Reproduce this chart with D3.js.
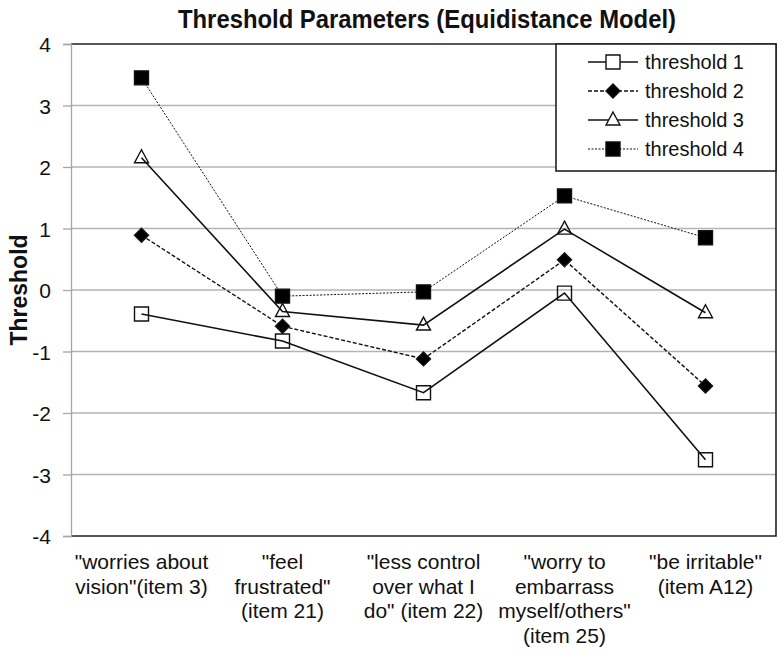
<!DOCTYPE html>
<html>
<head>
<meta charset="utf-8">
<script src="https://cdn.jsdelivr.net/npm/d3@7"></script>
<style>
  body { margin: 0; background: #fff; }
  text { font-family: "Liberation Sans", Arial, sans-serif; fill: #111; }
</style>
</head>
<body>
<svg id="chart" width="784" height="656"></svg>
<script>
// categories (multi-line labels)
const categories = [
  ['"worries about', 'vision"(item 3)'],
  ['"feel', 'frustrated"', '(item 21)'],
  ['"less control', 'over what I', 'do" (item 22)'],
  ['"worry to', 'embarrass', 'myself/others"', '(item 25)'],
  ['"be irritable"', '(item A12)']
]
const seriesNames = ['threshold 1', 'threshold 2', 'threshold 3', 'threshold 4']
const threshold1 = [-0.39, -0.83, -1.67, -0.05, -2.76]
const threshold2 = [0.89, -0.59, -1.12, 0.49, -1.56]
const threshold3 = [2.15, -0.35, -0.57, 0.99, -0.37]
const threshold4 = [3.45, -0.10, -0.03, 1.53, 0.85]
const yTicks = [-4, -3, -2, -1, 0, 1, 2, 3, 4]

const series = [threshold1, threshold2, threshold3, threshold4]
// line / marker styles
const styles = [
  { dash: null, width: 1.6, marker: 'square', fill: 'none' },
  { dash: '4,2', width: 1.4, marker: 'diamond', fill: '#000' },
  { dash: null, width: 1.6, marker: 'triangle', fill: 'none' },
  { dash: '2,1.5', width: 1, marker: 'square', fill: '#000' }
]

const svg = d3.select('#chart')
const margin = { left: 71, right: 8, top: 44, bottom: 120 }
const W = 784, H = 656

const x = d3.scaleBand()
  .domain(d3.range(categories.length))
  .range([margin.left, W - margin.right])
const y = d3.scaleLinear().domain([-4, 4]).range([H - margin.bottom, margin.top])

// gridlines
svg.append('g').selectAll('line')
  .data(yTicks.filter(d => d > -4 && d < 4))
  .join('line')
  .attr('x1', margin.left).attr('x2', W - margin.right)
  .attr('y1', d => y(d)).attr('y2', d => y(d))
  .attr('stroke', '#b3b3b3').attr('stroke-width', 1.3)

// frame top/right/bottom
svg.append('path')
  .attr('d', `M${margin.left},${y(4)}H${W - margin.right}V${y(-4)}H${margin.left}`)
  .attr('fill', 'none').attr('stroke', '#222').attr('stroke-width', 1.6)

// y axis
const yAxis = svg.append('g')
  .attr('transform', `translate(${margin.left},0)`)
  .call(d3.axisLeft(y).tickValues(yTicks).tickSize(8).tickPadding(12).tickFormat(d => String(d)))
yAxis.select('.domain').attr('stroke', '#a6a6a6').attr('stroke-width', 1.3)
yAxis.selectAll('.tick line').attr('stroke', '#a6a6a6').attr('stroke-width', 1.3)
yAxis.selectAll('.tick text')
  .attr('font-size', 21).attr('font-family', '"Liberation Sans", Arial, sans-serif')
  .attr('fill', '#111').attr('dy', '0.36em')

// x labels
const xl = svg.append('g').selectAll('text')
  .data(categories)
  .join('text')
  .attr('text-anchor', 'middle')
  .attr('font-size', 21)
  .attr('y', 569)
xl.selectAll('tspan')
  .data((d, i) => d.map(s => ({ s, i })))
  .join('tspan')
  .attr('x', d => x(d.i) + x.bandwidth() / 2)
  .attr('dy', (d, j) => j === 0 ? 0 : 24.5)
  .text(d => d.s)

// title
svg.append('text')
  .attr('x', 427).attr('y', 28)
  .attr('text-anchor', 'middle')
  .attr('font-size', 25).attr('font-weight', 'bold')
  .attr('textLength', 498).attr('lengthAdjust', 'spacingAndGlyphs')
  .text('Threshold Parameters (Equidistance Model)')

// y title
svg.append('text')
  .attr('transform', `translate(27,${y(0)}) rotate(-90)`)
  .attr('text-anchor', 'middle')
  .attr('font-size', 23).attr('font-weight', 'bold')
  .text('Threshold')

function markerPath(type) {
  if (type === 'square') return 'M-7,-7H7V7H-7Z'
  if (type === 'diamond') return 'M0,-7L7,0L0,7L-7,0Z'
  return 'M0,-8L7,5H-7Z'
}

const line = d3.line()
  .x((d, i) => x(i) + x.bandwidth() / 2)
  .y(d => y(d))

series.forEach((vals, k) => {
  const st = styles[k]
  svg.append('path')
    .datum(vals)
    .attr('d', line)
    .attr('fill', 'none')
    .attr('stroke', '#111')
    .attr('stroke-width', st.width)
    .attr('stroke-dasharray', st.dash)
  svg.append('g').selectAll('path')
    .data(vals)
    .join('path')
    .attr('transform', (d, i) => `translate(${x(i) + x.bandwidth() / 2},${y(d)})`)
    .attr('d', markerPath(st.marker))
    .attr('fill', st.fill)
    .attr('stroke', '#111')
    .attr('stroke-width', 1.4)
})

// legend
const lg = svg.append('g')
lg.append('rect')
  .attr('x', 556).attr('y', 44).attr('width', W - margin.right - 556).attr('height', 127)
  .attr('fill', '#fff').attr('stroke', '#222').attr('stroke-width', 1.6)
seriesNames.forEach((name, k) => {
  const st = styles[k]
  const ly = 62 + k * 29
  lg.append('line')
    .attr('x1', 588).attr('x2', 638).attr('y1', ly).attr('y2', ly)
    .attr('stroke', '#111').attr('stroke-width', st.width)
    .attr('stroke-dasharray', st.dash)
  lg.append('path')
    .attr('transform', `translate(613,${ly})`)
    .attr('d', markerPath(st.marker))
    .attr('fill', st.fill === 'none' ? '#fff' : st.fill)
    .attr('stroke', '#111').attr('stroke-width', 1.4)
  lg.append('text')
    .attr('x', 645).attr('y', ly).attr('dy', '0.36em')
    .attr('font-size', 20)
    .text(name)
})
</script>
</body>
</html>
